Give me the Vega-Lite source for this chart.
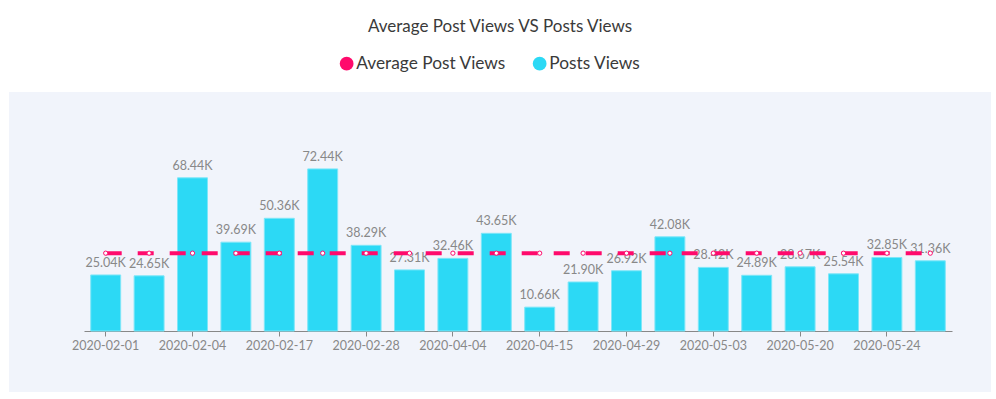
{
  "$schema": "https://vega.github.io/schema/vega-lite/v6.json",
  "width": 982,
  "height": 300,
  "autosize": {"type": "none"},
  "padding": {"left": 9, "top": 92, "right": 5, "bottom": 7},
  "background": "white",
  "config": {
    "view": {"fill": "#f1f4fb", "stroke": null},
    "font": "Lato"
  },
  "title": {
    "text": "Average Post Views VS Posts Views",
    "anchor": "middle",
    "frame": "group",
    "offset": 19,
    "fontSize": 17,
    "fontWeight": "normal",
    "color": "#3a3a3a",
    "font": "Lato"
  },
  "data": {
    "values": [
      {"date": "2020-02-01", "views": 25040, "avg": 34780},
      {"date": "2020-02-03", "views": 24650, "avg": 34780},
      {"date": "2020-02-04", "views": 68440, "avg": 34780},
      {"date": "2020-02-10", "views": 39690, "avg": 34780},
      {"date": "2020-02-17", "views": 50360, "avg": 34780},
      {"date": "2020-02-22", "views": 72440, "avg": 34780},
      {"date": "2020-02-28", "views": 38290, "avg": 34780},
      {"date": "2020-03-15", "views": 27310, "avg": 34780},
      {"date": "2020-04-04", "views": 32460, "avg": 34780},
      {"date": "2020-04-10", "views": 43650, "avg": 34780},
      {"date": "2020-04-15", "views": 10660, "avg": 34780},
      {"date": "2020-04-22", "views": 21900, "avg": 34780},
      {"date": "2020-04-29", "views": 26920, "avg": 34780},
      {"date": "2020-05-01", "views": 42080, "avg": 34780},
      {"date": "2020-05-03", "views": 28420, "avg": 34780},
      {"date": "2020-05-12", "views": 24890, "avg": 34780},
      {"date": "2020-05-20", "views": 28670, "avg": 34780},
      {"date": "2020-05-22", "views": 25540, "avg": 34780},
      {"date": "2020-05-24", "views": 32850, "avg": 34780},
      {"date": "2020-05-27", "views": 31360, "avg": 34780}
    ]
  },
  "encoding": {
    "x": {
      "field": "date",
      "type": "ordinal",
      "sort": null,
      "scale": {"range": [75, 943], "paddingInner": 0.31, "paddingOuter": 0.155},
      "axis": {
        "title": null,
        "offset": -61,
        "values": ["2020-02-01", "2020-02-04", "2020-02-17", "2020-02-28", "2020-04-04", "2020-04-15", "2020-04-29", "2020-05-03", "2020-05-20", "2020-05-24"],
        "labelAngle": 0,
        "labelFontSize": 12.5,
        "labelColor": "#888888",
        "labelPadding": 3,
        "domainColor": "#888888",
        "tickColor": "#888888",
        "tickSize": 5,
        "grid": false,
        "labelFont": "Lato"
      }
    }
  },
  "layer": [
    {
      "mark": {"type": "bar", "stroke": "#7ee6f8", "strokeWidth": 1},
      "encoding": {
        "y": {
          "field": "views",
          "type": "quantitative",
          "scale": {"domain": [0, 106800], "range": [239, 0], "nice": false},
          "axis": null
        },
        "color": {
          "datum": "Posts Views",
          "type": "nominal",
          "scale": {"domain": ["Average Post Views", "Posts Views"], "range": ["#ff0a6c", "#2cd9f5"]},
          "legend": {
            "title": null,
            "orient": "none",
            "legendX": 329,
            "legendY": -37,
            "direction": "horizontal",
            "symbolType": "circle",
            "symbolSize": 190,
            "symbolStrokeWidth": 0,
            "labelFontSize": 17.3,
            "labelColor": "#3a3a3a",
            "labelFont": "Lato",
            "labelOffset": 1,
            "columnPadding": 25,
            "encode": {
              "symbols": {
                "update": {
                  "fill": {"scale": "color", "field": "value"},
                  "fillOpacity": {"value": 1},
                  "stroke": {"value": "transparent"},
                  "shape": {"value": "circle"}
                }
              }
            }
          }
        }
      }
    },
    {
      "transform": [{"calculate": "format(datum.views / 1000, '.2f') + 'K'", "as": "label"}],
      "mark": {"type": "text", "baseline": "bottom", "dy": -5, "fontSize": 12.5, "color": "#888888", "font": "Lato"},
      "encoding": {
        "y": {"field": "views", "type": "quantitative"},
        "text": {"field": "label"}
      }
    },
    {
      "mark": {"type": "line", "strokeWidth": 4, "strokeDash": [16, 16]},
      "encoding": {
        "y": {"field": "avg", "type": "quantitative"},
        "color": {"datum": "Average Post Views", "type": "nominal"}
      }
    },
    {
      "mark": {"type": "point", "filled": false, "fill": "white", "fillOpacity": 1, "stroke": "#ff0a6c", "strokeWidth": 1, "size": 18, "opacity": 1},
      "encoding": {
        "y": {"field": "avg", "type": "quantitative"}
      }
    }
  ],
  "resolve": {"scale": {"color": "shared"}}
}
